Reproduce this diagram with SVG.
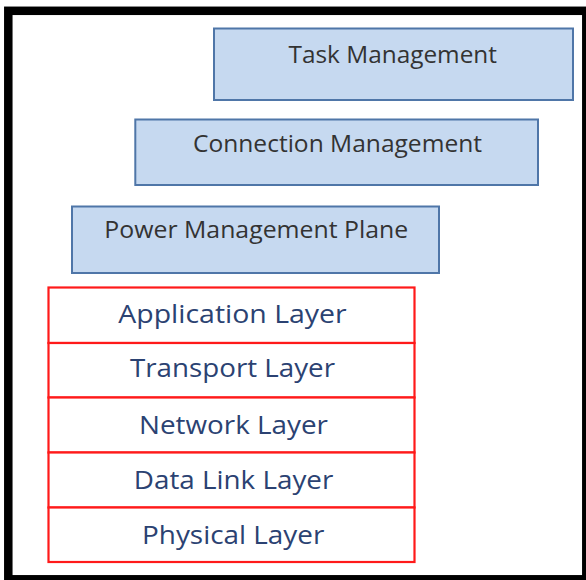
<svg xmlns="http://www.w3.org/2000/svg" width="586" height="580" viewBox="0 0 586 580">
<style>
.plane{fill:#c6d9f0;stroke:#4f76a8;stroke-width:2}
.layer{fill:#ffffff;stroke:#ff1a1a;stroke-width:2.2}
.pt{font-family:"Open Sans","Liberation Sans",sans-serif;font-size:23.5px;fill:#333333}
.lt{font-family:"Open Sans","Liberation Sans",sans-serif;font-size:25px;fill:#2b4272}
</style>
<rect x="0" y="0" width="586" height="580" fill="#ffffff"/>
<rect x="8.3" y="10.8" width="578" height="568.5" fill="none" stroke="#000000" stroke-width="8.5"/>
<g id="task-management">
<rect class="plane" x="214" y="28.5" width="359" height="71.5"/>
<text class="pt" x="288.5" y="63.3" textLength="208.5" lengthAdjust="spacingAndGlyphs">Task Management</text>
</g>
<g id="connection-management">
<rect class="plane" x="135.3" y="119.5" width="402.7" height="65.5"/>
<text class="pt" x="193" y="151.7" textLength="289" lengthAdjust="spacingAndGlyphs">Connection Management</text>
</g>
<g id="power-management-plane">
<rect class="plane" x="72" y="206.5" width="367" height="66.5"/>
<text class="pt" x="104.3" y="238.3" textLength="304" lengthAdjust="spacingAndGlyphs">Power Management Plane</text>
</g>
<g id="application-layer">
<rect class="layer" x="48.5" y="287.5" width="366" height="55.5"/>
<text class="lt" x="118.3" y="323.3" textLength="228.4" lengthAdjust="spacingAndGlyphs">Application Layer</text>
</g>
<g id="transport-layer">
<rect class="layer" x="48.5" y="343" width="366" height="54.5"/>
<text class="lt" x="130" y="376.5" textLength="205" lengthAdjust="spacingAndGlyphs">Transport Layer</text>
</g>
<g id="network-layer">
<rect class="layer" x="48.5" y="397.5" width="366" height="55"/>
<text class="lt" x="139" y="434" textLength="189" lengthAdjust="spacingAndGlyphs">Network Layer</text>
</g>
<g id="data-link-layer">
<rect class="layer" x="48.5" y="452.5" width="366" height="55"/>
<text class="lt" x="133.8" y="489.3" textLength="199.5" lengthAdjust="spacingAndGlyphs">Data Link Layer</text>
</g>
<g id="physical-layer">
<rect class="layer" x="48.5" y="507.5" width="366" height="54.5"/>
<text class="lt" x="142" y="544.3" textLength="182.4" lengthAdjust="spacingAndGlyphs">Physical Layer</text>
</g>
<g id="connectors"/>
</svg>
